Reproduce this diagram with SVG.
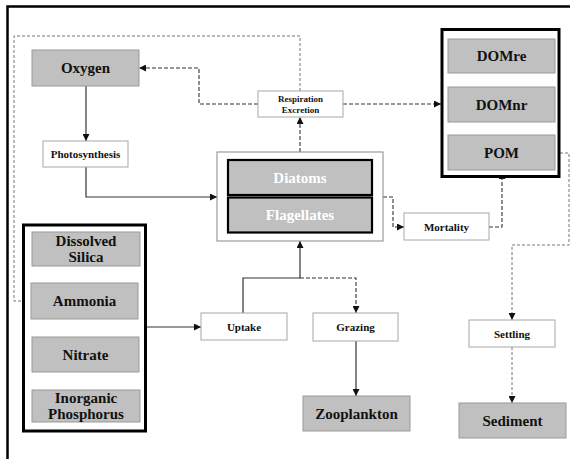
<svg xmlns="http://www.w3.org/2000/svg" width="570" height="459" viewBox="0 0 570 459" font-family="Liberation Serif, DejaVu Serif, serif" font-weight="bold">
<style>
.frame{fill:none;stroke:#000;stroke-width:2.5}
.gbox{fill:#c0c0c0;stroke:#9a9a9a;stroke-width:1}
.pbox{fill:#fff;stroke:#a8a8a8;stroke-width:1}
.cont{fill:#fff;stroke:#000;stroke-width:3}
.pcont{fill:#fff;stroke:#888;stroke-width:1}
.lbl{font-size:15px;fill:#111;text-anchor:middle}
.wlbl{font-size:15px;fill:#fff;text-anchor:middle}
.plbl{font-size:11px;fill:#111;text-anchor:middle}
.slbl{font-size:9px;fill:#111;text-anchor:middle}
.solid{fill:none;stroke:#333;stroke-width:1.2}
.dash{fill:none;stroke:#333;stroke-width:1.1;stroke-dasharray:4 2}
.ldash{fill:none;stroke:#777;stroke-width:1;stroke-dasharray:3 2}
</style>
<defs>
<marker id="ah" viewBox="0 0 8 8" refX="8" refY="4" markerWidth="7" markerHeight="7" markerUnits="userSpaceOnUse" orient="auto">
<path d="M0,0 L8,4 L0,8 Z" fill="#111"/>
</marker>
</defs>
<path class="frame" d="M7.5,459 V6.5 H570"/>

<g id="connectors">
<path class="ldash" d="M300,91 V36 H14 V301 H30" marker-end="url(#ah)"/>
<path class="solid" d="M86,86 V141" marker-end="url(#ah)"/>
<path class="solid" d="M86,167 V197 H217" marker-end="url(#ah)"/>
<path class="dash" d="M258,104 H199 V68 H139" marker-end="url(#ah)"/>
<path class="dash" d="M343,104 H441" marker-end="url(#ah)"/>
<path class="dash" d="M300,152 V117" marker-end="url(#ah)"/>
<path class="dash" d="M383,197 H393 V227 H404" marker-end="url(#ah)"/>
<path class="dash" d="M489,227 H502 V172" marker-end="url(#ah)"/>
<path class="ldash" d="M555,153 H569 V245 H512 V320" marker-end="url(#ah)"/>
<path class="ldash" d="M512,347 V403" marker-end="url(#ah)"/>
<path class="solid" d="M146,327 H201" marker-end="url(#ah)"/>
<path class="solid" d="M243,313 V278 H300 V241" marker-end="url(#ah)"/>
<path class="dash" d="M300,278 H356 V313" marker-end="url(#ah)"/>
<path class="solid" d="M356,341 V396" marker-end="url(#ah)"/>
<path class="dash" d="M86,319 V337" marker-end="url(#ah)"/>
</g>

<g id="oxygen">
<rect class="gbox" x="32" y="50" width="107" height="36"/>
<text class="lbl" x="85.5" y="73">Oxygen</text>
</g>
<g id="photosynthesis">
<rect class="pbox" x="43" y="141" width="85" height="26"/>
<text class="plbl" x="85.5" y="158">Photosynthesis</text>
</g>
<g id="respiration">
<rect class="pbox" x="258" y="91" width="85" height="26"/>
<text class="slbl" x="300.5" y="102">Respiration</text>
<text class="slbl" x="300.5" y="113">Excretion</text>
</g>
<g id="phytoplankton">
<rect class="pcont" x="217" y="152" width="166" height="89"/>
<g id="diatoms">
<rect x="228" y="160" width="144" height="35" fill="#c0c0c0" stroke="#000" stroke-width="2.2"/>
<text class="wlbl" x="300" y="182.5">Diatoms</text>
</g>
<g id="flagellates">
<rect x="228" y="197.5" width="144" height="35" fill="#c0c0c0" stroke="#000" stroke-width="2.2"/>
<text class="wlbl" x="300" y="220">Flagellates</text>
</g>
</g>
<g id="organic">
<rect class="cont" x="442" y="29.5" width="117" height="147"/>
<g id="domre">
<rect class="gbox" x="448" y="39" width="107" height="34"/>
<text class="lbl" x="501.5" y="61">DOMre</text>
</g>
<g id="domnr">
<rect class="gbox" x="448" y="87" width="107" height="35"/>
<text class="lbl" x="501.5" y="109.5">DOMnr</text>
</g>
<g id="pom">
<rect class="gbox" x="448" y="135" width="107" height="35"/>
<text class="lbl" x="501.5" y="157.5">POM</text>
</g>
</g>
<g id="mortality">
<rect class="pbox" x="404" y="213" width="85" height="27"/>
<text class="plbl" x="446.5" y="230.5">Mortality</text>
</g>
<g id="nutrients">
<rect class="cont" x="23.5" y="225" width="122" height="206"/>
<g id="silica">
<rect class="gbox" x="32" y="232" width="108" height="34"/>
<text class="lbl" x="86" y="246">Dissolved</text>
<text class="lbl" x="86" y="262">Silica</text>
</g>
<g id="ammonia">
<rect class="gbox" x="31" y="283" width="107" height="36"/>
<text class="lbl" x="84.5" y="306">Ammonia</text>
</g>
<g id="nitrate">
<rect class="gbox" x="32" y="337" width="107" height="35"/>
<text class="lbl" x="85.5" y="359.5">Nitrate</text>
</g>
<g id="phosphorus">
<rect class="gbox" x="32" y="390" width="108" height="32"/>
<text class="lbl" x="86" y="403">Inorganic</text>
<text class="lbl" x="86" y="419">Phosphorus</text>
</g>
</g>
<g id="uptake">
<rect class="pbox" x="201" y="313" width="86" height="27"/>
<text class="plbl" x="244" y="330.5">Uptake</text>
</g>
<g id="grazing">
<rect class="pbox" x="313" y="313" width="85" height="28"/>
<text class="plbl" x="355.5" y="330.5">Grazing</text>
</g>
<g id="zooplankton">
<rect class="gbox" x="303" y="396" width="107" height="35"/>
<text class="lbl" x="356.5" y="418.5">Zooplankton</text>
</g>
<g id="settling">
<rect class="pbox" x="469" y="320" width="86" height="27"/>
<text class="plbl" x="512" y="337.5">Settling</text>
</g>
<g id="sediment">
<rect class="gbox" x="459" y="403" width="107" height="35"/>
<text class="lbl" x="512.5" y="425.5">Sediment</text>
</g>
</svg>
